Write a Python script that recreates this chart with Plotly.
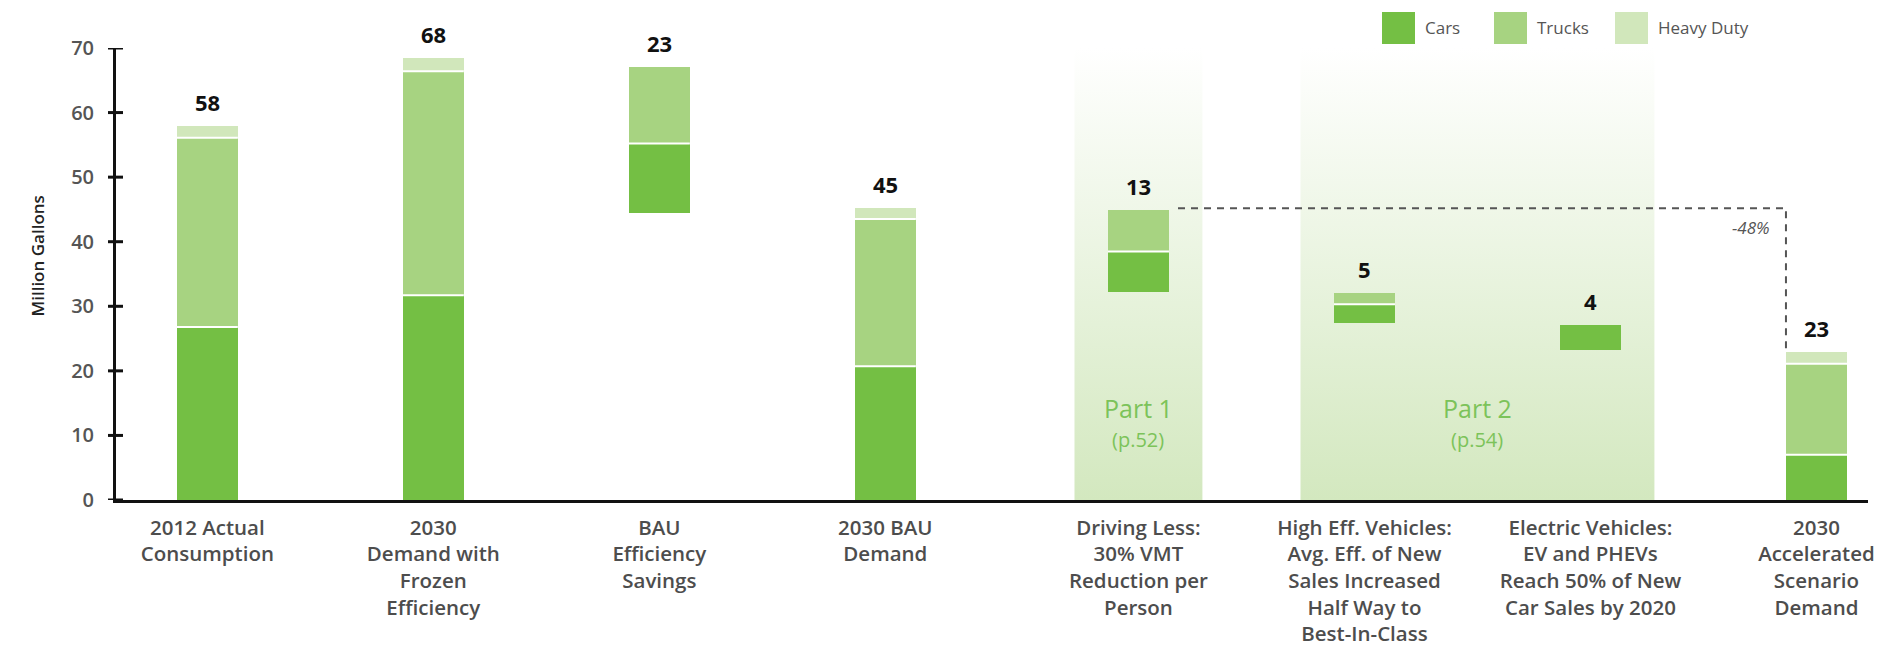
import plotly.graph_objects as go

# ---- data -----------------------------------------------------------------
categories = [
    "2012 Actual<br>Consumption",
    "2030<br>Demand with<br>Frozen<br>Efficiency",
    "BAU<br>Efficiency<br>Savings",
    "2030 BAU<br>Demand",
    "Driving Less:<br>30% VMT<br>Reduction per<br>Person",
    "High Eff. Vehicles:<br>Avg. Eff. of New<br>Sales Increased<br>Half Way to<br>Best-In-Class",
    "Electric Vehicles:<br>EV and PHEVs<br>Reach 50% of New<br>Car Sales by 2020",
    "2030<br>Accelerated<br>Scenario<br>Demand",
]
base = [0, 0, 44.5, 0, 32.2, 27.4, 23.2, 0]          # floating start of each column
cars = [26.8, 31.7, 10.7, 20.7, 6.3, 2.9, 3.9, 7.0]
trucks = [29.3, 34.7, 11.9, 22.8, 6.45, 1.7, 0, 14.1]
heavy = [1.8, 2.0, 0, 1.7, 0, 0, 0, 1.8]
series_names = ["Cars", "Trucks", "Heavy Duty"]
y_ticks = [0, 10, 20, 30, 40, 50, 60, 70]
parts = [("Part 1", "(p.52)", [4]), ("Part 2", "(p.54)", [5, 6])]
reduction_label = "-48%"

# ---- layout constants ------------------------------------------------------
slot = [0, 1, 2, 3, 4.12, 5.12, 6.12, 7.12]
bar_w = 0.27
band_half = 0.283
x_range = [-0.404, 7.348]
y_range = [0, 70]
colors = ["#74bf44", "#a7d381", "#d1e7bb"]
W, H = 1898, 646
M = dict(l=116, r=30, t=48, b=146)
FONT = "Open Sans"

plot_w = W - M["l"] - M["r"]
plot_h = H - M["t"] - M["b"]


def px_x(px):
    return (px - M["l"]) / plot_w


def px_y(py):
    return (H - M["b"] - py) / plot_h


fig = go.Figure()

# shaded scenario bands (base subplot, drawn underneath)
for title, page, idx in parts:
    x0 = slot[idx[0]] - band_half
    x1 = slot[idx[-1]] + band_half
    fig.add_trace(go.Scatter(
        x=[x0, x1, x1, x0, x0], y=[0, 0, y_range[1], y_range[1], 0],
        mode="lines", line=dict(width=0), fill="toself",
        fillgradient=dict(type="vertical", start=0, stop=y_range[1],
                          colorscale=[[0, "#d3e8bf"], [1, "#ffffff"]]),
        hoverinfo="skip", showlegend=False,
    ))

# stacked (floating) columns on the overlaid subplot
cum = list(base)
bounds = [[] for _ in categories]
for name, vals, col in zip(series_names, [cars, trucks, heavy], colors):
    fig.add_trace(go.Bar(
        x=slot, y=vals, base=list(cum), width=bar_w, name=name,
        marker=dict(color=col, line=dict(width=0)), showlegend=False,
        xaxis="x2", yaxis="y2",
    ))
    for i, v in enumerate(vals):
        if v > 0:
            bounds[i].append(cum[i] + v)
        cum[i] += v

totals = [c - b for c, b in zip(cum, base)]

# dashed connector from BAU demand to accelerated scenario
bau_top = cum[3]
x_start = slot[4] + bar_w / 2 + 0.04
x_end = slot[7] - bar_w / 2
fig.add_trace(go.Scatter(
    x=[x_start, x_end, x_end], y=[bau_top, bau_top, cum[7]],
    mode="lines", line=dict(color="#555555", width=2, dash="7px,6px"),
    hoverinfo="skip", showlegend=False, xaxis="x2", yaxis="y2",
))

shapes = []
# white separators between stacked segments
for i, bl in enumerate(bounds):
    for b in bl[:-1]:
        shapes.append(dict(type="line", xref="x", yref="y",
                           x0=slot[i] - bar_w / 2, x1=slot[i] + bar_w / 2,
                           y0=b, y1=b, line=dict(color="white", width=2)))
# y ticks crossing the axis line
for v in y_ticks:
    shapes.append(dict(type="line", xref="paper", yref="y", xsizemode="pixel",
                       xanchor=0, x0=-8, x1=7, y0=v, y1=v,
                       line=dict(color="#111111", width=3)))

annotations = []
# totals above columns
for i, t in enumerate(totals):
    annotations.append(dict(x=slot[i], y=cum[i], text=f"<b>{t:.0f}</b>",
                            showarrow=False, yanchor="middle", yshift=24,
                            font=dict(family=FONT, size=22, color="#111111")))
# band captions
for title, page, idx in parts:
    xc = (slot[idx[0]] + slot[idx[-1]]) / 2
    annotations.append(dict(x=xc, y=14.2, text=title, showarrow=False,
                            font=dict(family=FONT, size=25, color="#7cc35a")))
    annotations.append(dict(x=xc, y=9.3, text=page, showarrow=False,
                            font=dict(family=FONT, size=20, color="#7cc35a")))
# reduction label
annotations.append(dict(x=x_end, y=bau_top, text=f"<i>{reduction_label}</i>",
                        showarrow=False, xanchor="right", yanchor="middle",
                        xshift=-14, yshift=-19,
                        font=dict(family=FONT, size=17, color="#555555")))
# y axis title
annotations.append(dict(xref="paper", yref="paper", x=px_x(23), y=px_y(256),
                        text="Million Gallons", textangle=-90,
                        showarrow=False,
                        font=dict(family=FONT, size=17, color="#222222",
                                  weight=600)))

# legend
legend_boxes = [1382, 1494, 1615]
for name, col, bx in zip(series_names, colors, legend_boxes):
    shapes.append(dict(type="rect", xref="paper", yref="paper",
                       x0=px_x(bx), x1=px_x(bx + 33), y0=px_y(44), y1=px_y(12),
                       fillcolor=col, line=dict(width=0)))
    annotations.append(dict(xref="paper", yref="paper", x=px_x(bx + 41),
                            y=px_y(28), text=name, showarrow=False,
                            xanchor="left", yanchor="middle",
                            font=dict(family=FONT, size=17, color="#555555")))

fig.update_layout(
    width=W, height=H, margin=M,
    paper_bgcolor="white", plot_bgcolor="white",
    barmode="overlay", bargap=0, showlegend=False,
    shapes=shapes, annotations=annotations,
    font=dict(family=FONT),
    xaxis=dict(range=x_range, tickvals=slot, ticktext=categories,
               showgrid=False, zeroline=False, showline=True,
               linecolor="#111111", linewidth=3, ticks="",
               ticklabelstandoff=7, automargin=False,
               tickfont=dict(family=FONT, size=20.5, color="#4d4d4d",
                             weight=600)),
    yaxis=dict(range=y_range, tickvals=y_ticks, showgrid=False, zeroline=False,
               showline=True, linecolor="#111111", linewidth=3, ticks="",
               ticklabelstandoff=15, automargin=False,
               tickfont=dict(family=FONT, size=20, color="#555555", weight=600)),
    xaxis2=dict(range=x_range, overlaying="x", visible=False),
    yaxis2=dict(range=y_range, overlaying="y", visible=False),
)

fig.write_html("out.html")
